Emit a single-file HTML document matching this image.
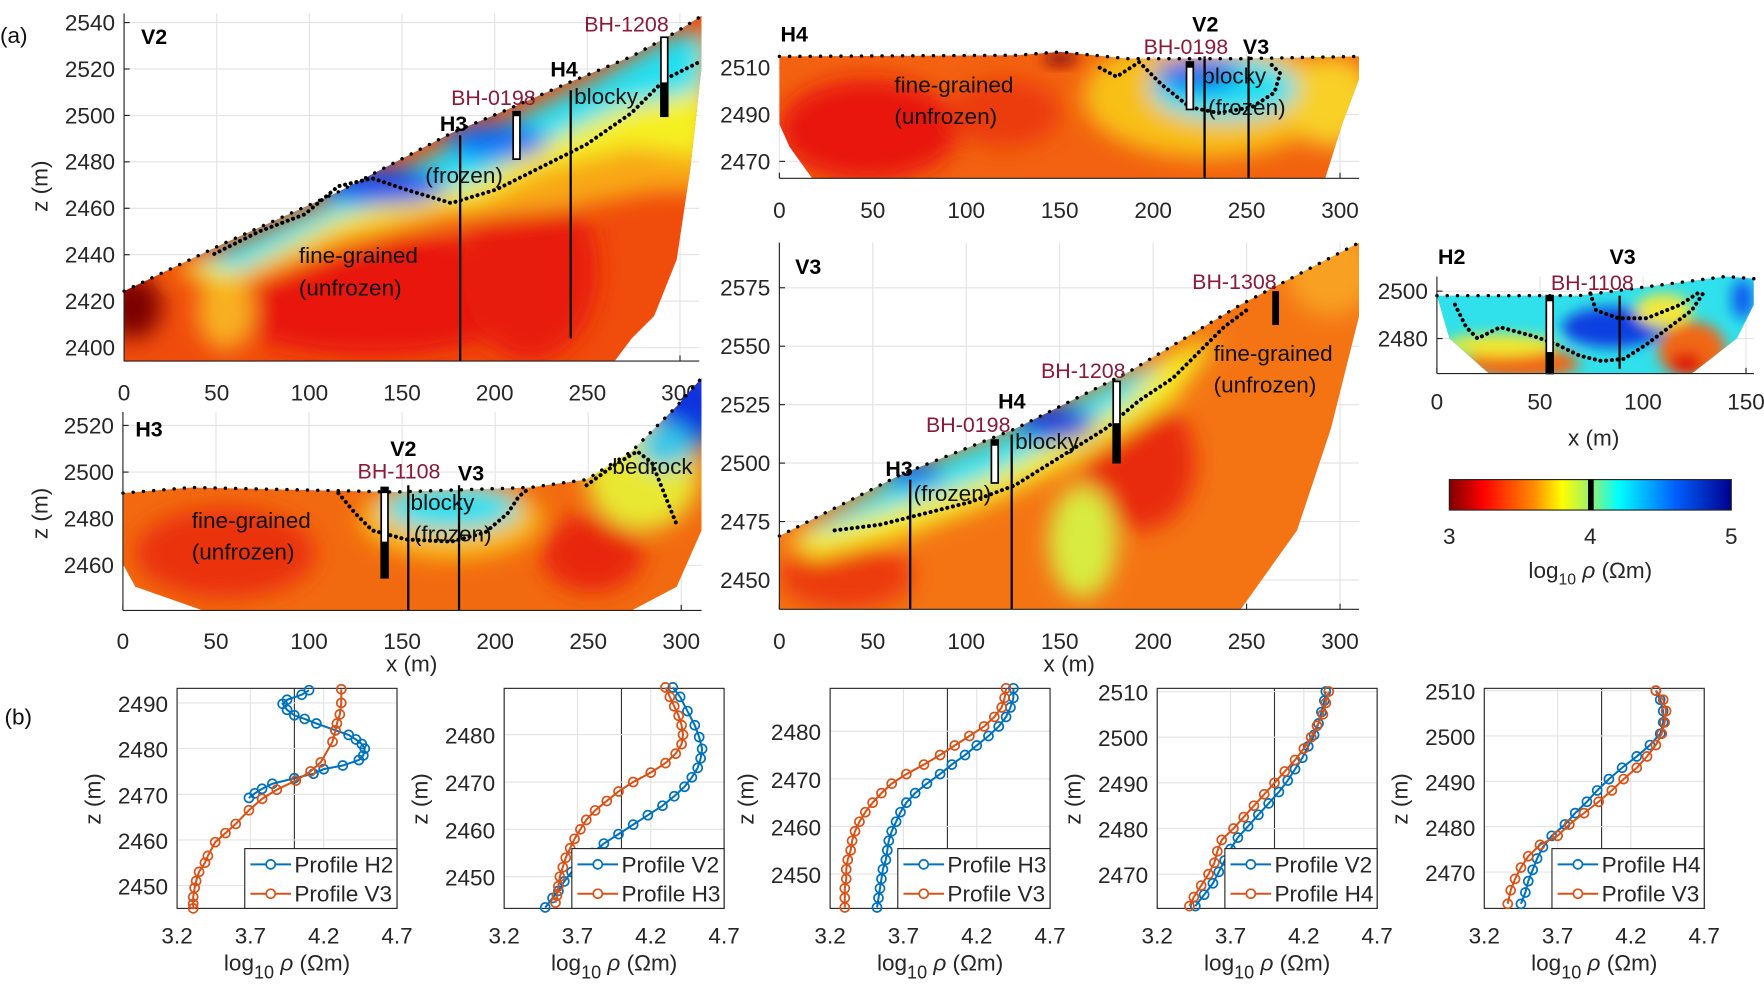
<!DOCTYPE html>
<html><head><meta charset="utf-8">
<style>
html,body{margin:0;padding:0;background:#fff;}
svg{display:block;font-family:"Liberation Sans",sans-serif;}
.t{font-size:20px;fill:#262626;}
.lbl{font-size:20px;fill:#111;}
.pn{font-size:19px;font-weight:bold;fill:#000;}
.bh{font-size:19px;fill:#8b1a3a;}
.grid{stroke:#e3e3e3;stroke-width:1;}
.dots{fill:none;stroke:#000;stroke-width:3.5;stroke-dasharray:0.1 5;stroke-linecap:round;}
.surf{fill:none;stroke:#000;stroke-width:3;stroke-dasharray:0.1 9;stroke-linecap:round;}
</style></head>
<body>
<svg id="fig" width="1764" height="984" viewBox="0 0 1564 872" preserveAspectRatio="none" xmlns="http://www.w3.org/2000/svg">
<defs>
<filter id="bl" x="-50%" y="-50%" width="200%" height="200%"><feGaussianBlur stdDeviation="10"/></filter>
<filter id="bl2" x="-50%" y="-50%" width="200%" height="200%"><feGaussianBlur stdDeviation="6"/></filter>
<linearGradient id="cmap" x1="0" x2="1" y1="0" y2="0">
<stop offset="0" stop-color="#7f0000"/><stop offset="0.12" stop-color="#ff0000"/><stop offset="0.3" stop-color="#ff8c00"/><stop offset="0.4" stop-color="#ffff00"/><stop offset="0.5" stop-color="#9af070"/><stop offset="0.6" stop-color="#00ffff"/><stop offset="0.8" stop-color="#0060ff"/><stop offset="1" stop-color="#00008f"/>
</linearGradient>
<clipPath id="cV2"><polygon points="110,258 200,215 300,170 400,118 450,97 500,75 560,50 600,28 622,14 622,60 612,150 600,230 580,280 560,300 545,320 110,320"/></clipPath>
<clipPath id="cH4"><polygon points="691,50 900,49 940,46 1000,52 1100,52 1205,50 1205,70 1190,110 1175,158 720,158 700,130 691,110"/></clipPath>
<clipPath id="cV3"><polygon points="691,475 800,420 900,380 1000,330 1100,270 1205,215 1205,280 1180,380 1150,470 1100,540 691,540"/></clipPath>
<clipPath id="cH3"><polygon points="109,437 170,432 260,434 350,436 470,432 520,425 560,400 600,360 622,335 622,470 600,520 560,541 180,541 120,520 109,500"/></clipPath>
<clipPath id="cH2"><polygon points="1274,262 1400,262 1530,245 1555,247 1555,270 1540,300 1500,331 1320,331 1285,300"/></clipPath>
</defs>

<text x="0" y="38" class="lbl">(a)</text>
<text x="4" y="642" class="lbl">(b)</text>

<!-- V2 -->
<g>
<g clip-path="url(#cV2)">
<rect x="100" y="0" width="530" height="330" fill="#f04c0c"/>
<g filter="url(#bl)">
<ellipse cx="330" cy="260" rx="150" ry="55" fill="#e81208"/>
<ellipse cx="470" cy="240" rx="60" ry="80" fill="#e81a08"/>
<ellipse cx="118" cy="272" rx="25" ry="28" fill="#7a0404"/>
<ellipse cx="200" cy="275" rx="25" ry="35" fill="#f8b020"/>
<polygon points="150,240 300,180 420,125 520,80 600,30 630,40 630,170 580,170 500,185 400,195 300,220 200,258" fill="#f8a818"/>
<polygon points="160,238 300,178 420,124 520,78 600,30 630,30 630,140 560,130 480,150 420,180 360,190 300,205 200,250" fill="#f5f020"/>
<polygon points="175,232 300,174 420,121 520,74 600,30 625,30 622,80 550,95 480,128 420,162 360,175 300,192 210,240" fill="#20e0f0"/>
<ellipse cx="340" cy="165" rx="55" ry="16" fill="#0a50f0"/>
<ellipse cx="440" cy="125" rx="45" ry="16" fill="#1070f8"/>
</g>
</g>
<polyline class="dots" points="190,225 230,205 270,190 300,165 330,158 360,168 400,180 440,168 480,148 520,128 560,100 590,70 620,55"/>
<polyline class="surf" points="110,258 200,215 300,170 400,118 450,97 500,75 560,50 600,28 622,14"/>
<rect x="455" y="99" width="6" height="42" fill="#fff" stroke="#000" stroke-width="1.5"/>
<rect x="455" y="99" width="6" height="4" fill="#000"/>
<rect x="586" y="33" width="6" height="70" fill="#fff" stroke="#000" stroke-width="1.5"/>
<rect x="586" y="73" width="6" height="30" fill="#000"/>
<line x1="408" y1="120" x2="408" y2="320" stroke="#000" stroke-width="2"/>
<line x1="506" y1="80" x2="506" y2="300" stroke="#000" stroke-width="2"/>
<line x1="110" y1="12" x2="110" y2="320" stroke="#222"/>
<line x1="110" y1="320" x2="620" y2="320" stroke="#222"/>
<text x="125" y="39" class="pn">V2</text>
<text x="390" y="116" class="pn">H3</text>
<text x="488" y="68" class="pn">H4</text>
<text x="400" y="93" class="bh">BH-0198</text>
<text x="518" y="28" class="bh">BH-1208</text>
<text x="509" y="92" class="lbl">blocky</text>
<text x="377" y="162" class="lbl">(frozen)</text>
<text x="265" y="233" class="lbl">fine-grained</text>
<text x="265" y="262" class="lbl">(unfrozen)</text>
</g>

<!-- H4 -->
<g>
<g clip-path="url(#cH4)">
<rect x="690" y="40" width="520" height="120" fill="#f26210"/>
<g filter="url(#bl)">
<ellipse cx="770" cy="115" rx="80" ry="45" fill="#e81808"/>
<ellipse cx="890" cy="100" rx="50" ry="30" fill="#ec3a0c"/>
<ellipse cx="1070" cy="85" rx="110" ry="55" fill="#f8c018"/>
<ellipse cx="1180" cy="90" rx="40" ry="40" fill="#f8d028"/>
<ellipse cx="1085" cy="78" rx="65" ry="28" fill="#20e0f0"/>
<ellipse cx="1062" cy="66" rx="38" ry="14" fill="#0a60f0"/>
</g>
<ellipse cx="940" cy="52" rx="15" ry="6" fill="#900808" filter="url(#bl2)"/>
</g>
<polyline class="dots" points="975,60 990,68 1010,55 1030,75 1055,95 1080,100 1110,95 1130,82 1135,65 1125,55"/>
<polyline class="surf" points="691,50 900,49 940,46 1000,52 1100,52 1205,50"/>
<rect x="1052" y="55" width="6" height="42" fill="#fff" stroke="#000" stroke-width="1.5"/>
<rect x="1052" y="55" width="6" height="5" fill="#000"/>
<line x1="1068" y1="50" x2="1068" y2="158" stroke="#000" stroke-width="2"/>
<line x1="1107" y1="50" x2="1107" y2="158" stroke="#000" stroke-width="2"/>
<line x1="691" y1="158" x2="1205" y2="158" stroke="#222"/>
<text x="692" y="37" class="pn">H4</text>
<text x="1057" y="28" class="pn">V2</text>
<text x="1102" y="48" class="pn">V3</text>
<text x="1014" y="48" class="bh">BH-0198</text>
<text x="1066" y="74" class="lbl">blocky</text>
<text x="1071" y="102" class="lbl">(frozen)</text>
<text x="793" y="82" class="lbl">fine-grained</text>
<text x="793" y="110" class="lbl">(unfrozen)</text>
</g>

<!-- V3 -->
<g>
<g clip-path="url(#cV3)">
<rect x="690" y="210" width="520" height="335" fill="#f47414"/>
<g filter="url(#bl)">
<ellipse cx="1010" cy="410" rx="50" ry="60" fill="#e82a08"/>
<ellipse cx="750" cy="510" rx="60" ry="30" fill="#ec3a0c"/>
<ellipse cx="960" cy="480" rx="30" ry="50" fill="#d8ec40"/>
<ellipse cx="1180" cy="240" rx="40" ry="40" fill="#f8a020"/>
<polygon points="700,478 800,428 900,388 1000,338 1050,308 1080,300 1040,355 960,405 880,445 800,475 720,495" fill="#f5f020"/>
<polygon points="710,472 800,420 900,380 990,335 1030,320 1000,355 940,390 870,425 800,448 730,470" fill="#20e0f0"/>
<ellipse cx="935" cy="375" rx="35" ry="16" fill="#0a40e0"/>
<ellipse cx="810" cy="420" rx="25" ry="12" fill="#1070f0"/>
</g>
</g>
<polyline class="dots" points="740,470 780,465 820,455 860,445 900,430 940,405 980,380 1010,355 1040,335 1060,315 1085,290 1105,275"/>
<polyline class="surf" points="691,475 800,420 900,380 1000,330 1100,270 1205,215"/>
<rect x="879" y="390" width="6" height="38" fill="#fff" stroke="#000" stroke-width="1.5"/>
<rect x="879" y="390" width="6" height="5" fill="#000"/>
<rect x="987" y="338" width="6" height="72" fill="#fff" stroke="#000" stroke-width="1.5"/>
<rect x="987" y="375" width="6" height="35" fill="#000"/>
<rect x="1128" y="258" width="6" height="30" fill="#000"/>
<line x1="807" y1="425" x2="807" y2="540" stroke="#000" stroke-width="2"/>
<line x1="897" y1="385" x2="897" y2="540" stroke="#000" stroke-width="2"/>
<line x1="691" y1="215" x2="691" y2="540" stroke="#222"/>
<line x1="691" y1="540" x2="1205" y2="540" stroke="#222"/>
<text x="705" y="243" class="pn">V3</text>
<text x="785" y="422" class="pn">H3</text>
<text x="885" y="362" class="pn">H4</text>
<text x="821" y="383" class="bh">BH-0198</text>
<text x="923" y="335" class="bh">BH-1208</text>
<text x="1057" y="256" class="bh">BH-1308</text>
<text x="900" y="398" class="lbl">blocky</text>
<text x="810" y="444" class="lbl">(frozen)</text>
<text x="1076" y="320" class="lbl">fine-grained</text>
<text x="1076" y="348" class="lbl">(unfrozen)</text>
</g>

<!-- H3 -->
<g>
<g clip-path="url(#cH3)">
<rect x="105" y="330" width="520" height="215" fill="#f26a10"/>
<g filter="url(#bl)">
<ellipse cx="200" cy="490" rx="80" ry="40" fill="#ea3008"/>
<ellipse cx="525" cy="490" rx="45" ry="35" fill="#e82808"/>
<ellipse cx="400" cy="460" rx="80" ry="35" fill="#f8c018"/>
<ellipse cx="570" cy="420" rx="50" ry="50" fill="#e8e830"/>
<ellipse cx="400" cy="450" rx="60" ry="20" fill="#20e0f0"/>
<ellipse cx="610" cy="360" rx="30" ry="40" fill="#0a30e0"/>
<ellipse cx="590" cy="395" rx="25" ry="20" fill="#30c8e8"/>
</g>
</g>
<polyline class="dots" points="300,437 315,455 330,470 360,478 400,480 430,472 450,455 460,440 470,432"/>
<polyline class="dots" points="520,430 545,412 565,400 578,410 590,440 600,465"/>
<polyline class="surf" points="109,437 170,432 260,434 350,436 470,432 520,425 560,400 600,360 622,335"/>
<rect x="338" y="432" width="6" height="80" fill="#fff" stroke="#000" stroke-width="1.5"/>
<rect x="338" y="432" width="6" height="5" fill="#000"/>
<rect x="338" y="480" width="6" height="32" fill="#000"/>
<line x1="362" y1="430" x2="362" y2="541" stroke="#000" stroke-width="2"/>
<line x1="407" y1="430" x2="407" y2="541" stroke="#000" stroke-width="2"/>
<line x1="109" y1="365" x2="109" y2="541" stroke="#222"/>
<line x1="109" y1="541" x2="622" y2="541" stroke="#222"/>
<text x="120" y="387" class="pn">H3</text>
<text x="346" y="404" class="pn">V2</text>
<text x="406" y="426" class="pn">V3</text>
<text x="317" y="424" class="bh">BH-1108</text>
<text x="364" y="452" class="lbl">blocky</text>
<text x="367" y="480" class="lbl">(frozen)</text>
<text x="543" y="420" class="lbl">bedrock</text>
<text x="170" y="468" class="lbl">fine-grained</text>
<text x="170" y="496" class="lbl">(unfrozen)</text>
</g>

<!-- H2 -->
<g>
<g clip-path="url(#cH2)">
<rect x="1270" y="240" width="290" height="95" fill="#30e0ea"/>
<g filter="url(#bl2)">
<ellipse cx="1430" cy="290" rx="45" ry="18" fill="#0a40e0"/>
<ellipse cx="1350" cy="322" rx="50" ry="14" fill="#f06818"/>
<ellipse cx="1330" cy="306" rx="50" ry="10" fill="#f0e830"/>
<ellipse cx="1500" cy="310" rx="30" ry="25" fill="#f06818"/>
<ellipse cx="1495" cy="322" rx="15" ry="10" fill="#e01808"/>
<ellipse cx="1475" cy="275" rx="25" ry="15" fill="#f0e840"/>
<ellipse cx="1545" cy="265" rx="10" ry="18" fill="#1060f0"/>
</g>
</g>
<polyline class="dots" points="1290,270 1300,290 1310,300 1330,290 1360,298 1380,305 1400,315 1420,320 1440,318 1460,305 1480,290 1500,275 1510,260"/>
<polyline class="dots" points="1410,260 1415,275 1435,282 1460,282 1490,270 1505,260"/>
<polyline class="surf" points="1274,262 1400,262 1530,245 1555,247"/>
<rect x="1371" y="262" width="6" height="69" fill="#fff" stroke="#000" stroke-width="1.5"/>
<rect x="1371" y="262" width="6" height="5" fill="#000"/>
<rect x="1371" y="312" width="6" height="19" fill="#000"/>
<line x1="1436" y1="262" x2="1436" y2="327" stroke="#000" stroke-width="2"/>
<line x1="1274" y1="245" x2="1274" y2="331" stroke="#222"/>
<line x1="1274" y1="331" x2="1555" y2="331" stroke="#222"/>
<text x="1275" y="234" class="pn">H2</text>
<text x="1427" y="234" class="pn">V3</text>
<text x="1375" y="257" class="bh">BH-1108</text>
</g>

<!-- colorbar -->
<g>
<rect x="1285" y="425" width="250" height="27" fill="url(#cmap)" stroke="#222"/>
<rect x="1408" y="425" width="5" height="27" fill="#000"/>
<text x="1285" y="482" class="t" text-anchor="middle">3</text>
<text x="1410" y="482" class="t" text-anchor="middle">4</text>
<text x="1535" y="482" class="t" text-anchor="middle">5</text>
<text x="1410" y="512" class="t" text-anchor="middle">log<tspan font-size="14" dy="6">10</tspan><tspan dy="-6"> </tspan><tspan font-style="italic">ρ</tspan> (Ωm)</text>
</g>
<g id="axes"></g>
</svg>
<script>
// ---- (b) profile data ----
const p1A=[[4.10,2492.8],[4.05,2491.8],[3.95,2490.7],[3.92,2489.8],[3.95,2488.5],[4.00,2487.3],[4.07,2486.5],[4.15,2485.5],[4.28,2484],[4.37,2483],[4.42,2482],[4.46,2481],[4.48,2480],[4.47,2478.5],[4.44,2477.5],[4.33,2476.3],[4.20,2475.5],[4.13,2474.5],[4.00,2473.5],[3.85,2472.3],[3.78,2471.2],[3.73,2470.2],[3.69,2469.2]];
const p1B=[[4.32,2493],[4.32,2490],[4.31,2487.5],[4.29,2485.5],[4.28,2484],[4.26,2481.5],[4.18,2477],[4.11,2475],[4.01,2473],[3.88,2471],[3.78,2469],[3.69,2466.5],[3.60,2463.5],[3.53,2461.5],[3.46,2459.5],[3.41,2456.5],[3.39,2455],[3.35,2453],[3.33,2451],[3.32,2449.5],[3.31,2447.5],[3.31,2446],[3.31,2445]];
const p2A=[[4.35,2490],[4.40,2488],[4.45,2485],[4.50,2482],[4.53,2479.5],[4.55,2477],[4.54,2475],[4.52,2473],[4.48,2471],[4.43,2469],[4.36,2467],[4.28,2465],[4.18,2463],[4.08,2461],[3.98,2459],[3.88,2457],[3.80,2455],[3.73,2453],[3.66,2451],[3.61,2449],[3.57,2447],[3.53,2445.5],[3.48,2443.5]];
const p2B=[[4.30,2490],[4.33,2488],[4.36,2486],[4.39,2484],[4.41,2482],[4.42,2480],[4.41,2478],[4.37,2476],[4.30,2474],[4.20,2472],[4.08,2470],[3.98,2468],[3.90,2466],[3.82,2464],[3.76,2462],[3.72,2460],[3.68,2458],[3.65,2456],[3.62,2454],[3.60,2452],[3.58,2450],[3.57,2448],[3.56,2446],[3.55,2444.5]];
const p3A=[[4.45,2489],[4.45,2487],[4.43,2485],[4.40,2483],[4.35,2481],[4.28,2479],[4.20,2477],[4.12,2475],[4.03,2473],[3.95,2471],[3.86,2469],[3.78,2467],[3.72,2465],[3.68,2463],[3.65,2461],[3.62,2459],[3.60,2457],[3.59,2455],[3.58,2453],[3.56,2451],[3.55,2449],[3.54,2447],[3.53,2445],[3.52,2443]];
const p3B=[[4.40,2489],[4.39,2487],[4.37,2485],[4.32,2483],[4.25,2481],[4.15,2479],[4.05,2477],[3.95,2475],[3.84,2473],[3.72,2471],[3.62,2469],[3.55,2467],[3.49,2465],[3.44,2463],[3.40,2461],[3.37,2459],[3.35,2457],[3.34,2455],[3.32,2453],[3.31,2451],[3.31,2449],[3.30,2447],[3.30,2445],[3.30,2443]];
const p4A=[[4.35,2510],[4.34,2508],[4.32,2505.5],[4.30,2503],[4.27,2500.5],[4.23,2498],[4.19,2495.5],[4.14,2493],[4.09,2490.5],[4.03,2488],[3.96,2485.5],[3.89,2483],[3.82,2480.5],[3.75,2478],[3.70,2475.5],[3.66,2473],[3.62,2470.5],[3.58,2468],[3.52,2465.5],[3.46,2463]];
const p4B=[[4.37,2510],[4.35,2507.5],[4.33,2505],[4.29,2502.5],[4.25,2500],[4.20,2497.5],[4.14,2495],[4.07,2492.5],[4.00,2490],[3.93,2487.5],[3.86,2485],[3.79,2482.5],[3.72,2480],[3.64,2477.5],[3.61,2475],[3.59,2472.5],[3.55,2470],[3.50,2467.5],[3.45,2465],[3.42,2463]];
const p5A=[[4.37,2510],[4.40,2508],[4.42,2505.5],[4.42,2503],[4.40,2500.5],[4.33,2498],[4.24,2495.5],[4.14,2493],[4.05,2490.5],[3.97,2488],[3.90,2485.5],[3.82,2483],[3.75,2480.5],[3.66,2478],[3.60,2475.5],[3.56,2473],[3.53,2470.5],[3.50,2468],[3.48,2465.5],[3.45,2463]];
const p5B=[[4.37,2510],[4.42,2508],[4.44,2505.5],[4.43,2503],[4.41,2500.5],[4.37,2498],[4.31,2495.5],[4.24,2493],[4.15,2490.5],[4.07,2488],[3.98,2485.5],[3.88,2483],[3.78,2480.5],[3.70,2478],[3.58,2476],[3.50,2473.5],[3.45,2471],[3.41,2468.5],[3.38,2466],[3.36,2463]];
const bxTicks=[3.2,3.7,4.2,4.7];
const bLeg=[["Profile H2","Profile V3"],["Profile V2","Profile H3"],["Profile H3","Profile V3"],["Profile V2","Profile H4"],["Profile H4","Profile V3"]];
const bYT=[[2450,2460,2470,2480,2490],[2450,2460,2470,2480],[2450,2460,2470,2480],[2470,2480,2490,2500,2510],[2470,2480,2490,2500,2510]];
const bYR=[[2445,2493.2],[2443.3,2489.8],[2442.8,2489],[2462.5,2510.7],[2462,2510.5]];
const bSeries=[[p1A,p1B],[p2A,p2B],[p3A,p3B],[p4A,p4B],[p5A,p5B]];
// ---- (a) section tick labels ----
const secXT=[0,50,100,150,200,250,300];
const h2XT=[0,50,100,150];
const v2YT=[2400,2420,2440,2460,2480,2500,2520,2540];
const h4YT=[2470,2490,2510];
const v3YT=[2450,2475,2500,2525,2550,2575];
const h3YT=[2460,2480,2500,2520];
const h2YT=[2480,2500];

const NS="http://www.w3.org/2000/svg";
const root=document.getElementById('axes');
function mk(tag,at,parent){const e=document.createElementNS(NS,tag);for(const k in at)e.setAttribute(k,at[k]);(parent||root).appendChild(e);return e;}
function txt(x,y,s,anchor,parent,cls){const e=mk('text',{x:x,y:y,'text-anchor':anchor||'middle',class:cls||'t'},parent);e.textContent=s;return e;}

function sect(name,x0,x1,px0,pxPer,y0,y1,zA,zB,pyA,pyB,xts,yts,xlY,xlab,ylab){
  const g=mk('g',{});
  
  
  const sx=v=>px0+v*pxPer;
  const sy=v=>pyA+(v-zA)*(pyB-pyA)/(zB-zA);
  xts.forEach(v=>{mk('line',{x1:sx(v),x2:sx(v),y1:y0,y2:y1,class:'grid'},g);mk('line',{x1:sx(v),x2:sx(v),y1:y1,y2:y1-5,stroke:'#222'},g);txt(sx(v),xlY,String(v),'middle',g);});
  yts.forEach(v=>{mk('line',{x1:x0,x2:x1,y1:sy(v),y2:sy(v),class:'grid'},g);mk('line',{x1:x0,x2:x0+5,y1:sy(v),y2:sy(v),stroke:'#222'},g);txt(x0-8,sy(v)+7,String(v),'end',g);});
  root.insertBefore(g,root.firstChild);
  if(xlab){const t=txt(xlab[0],xlab[1],'x (m)','middle',g);t.setAttribute('font-size','21');}
  if(ylab){const t=txt(0,0,'z (m)','middle',g);t.setAttribute('transform','translate('+ylab[0]+','+ylab[1]+') rotate(-90)');t.setAttribute('font-size','21');}
}
sect('v2',110,620,110,1.643,12,320,2540,2400,20,308,secXT,v2YT,355,null,[42,165]);
sect('h4',691,1205,691,1.657,45,158,2510,2470,60,143,secXT,h4YT,193,null,null);
sect('v3',691,1205,691,1.657,215,540,2575,2450,255,514,secXT,v3YT,575,[948,595],null);
sect('h3',109,622,109,1.65,365,541,2520,2460,377,501,secXT,h3YT,575,[365,595],[42,455]);
sect('h2',1274,1555,1274,1.827,245,331,2500,2480,258,300,h2XT,h2YT,363,[1413,395],null);
const svg=document.getElementById('fig');
svg.insertBefore(root,svg.querySelector('text'));

const bLeft=[157,447,736,1026,1316];
const bW=195,bTop=610,bBot=805;
const colA='#0072BD',colB='#D95319';
const bg=document.createElementNS(NS,'g');svg.appendChild(bg);
bLeft.forEach((L,i)=>{
  const g=mk('g',{},bg);
  
  
  const sx=v=>L+(v-3.2)/1.5*bW;
  const [zmin,zmax]=bYR[i];
  const sy=v=>bBot-(v-zmin)/(zmax-zmin)*(bBot-bTop);
  mk('rect',{x:L,y:bTop,width:bW,height:bBot-bTop,fill:'#fff'},g);
  bxTicks.forEach(v=>{mk('line',{x1:sx(v),x2:sx(v),y1:bTop,y2:bBot,class:'grid'},g);const t=txt(sx(v),836,v.toFixed(1),'middle',g);t.setAttribute('font-size','21');});
  mk('line',{x1:sx(4.0),x2:sx(4.0),y1:bTop,y2:bBot,stroke:'#333','stroke-width':1},g);
  bYT[i].forEach(v=>{mk('line',{x1:L,x2:L+bW,y1:sy(v),y2:sy(v),class:'grid'},g);const t=txt(L-8,sy(v)+8,String(v),'end',g);t.setAttribute('font-size','21');});
  mk('rect',{x:L,y:bTop,width:bW,height:bBot-bTop,fill:'none',stroke:'#262626'},g);
  bSeries[i].forEach((s,k)=>{
    const c=k?colB:colA;
    const sg=mk('g',{},g);
    
    
    mk('polyline',{points:s.map(p=>sx(p[0])+','+sy(p[1])).join(' '),fill:'none',stroke:c,'stroke-width':1.8},sg);
    s.forEach(p=>{const m=mk('circle',{cx:sx(p[0]),cy:sy(p[1]),r:4,fill:'none',stroke:c,'stroke-width':1.5},sg);
      
      });
  });
  const lg=mk('g',{},g);
  
  
  mk('rect',{x:L+60,y:752,width:bW-60,height:53,fill:'#fff',stroke:'#262626'},lg);
  [0,1].forEach(k=>{const y=766+k*26;const c=k?colB:colA;
    mk('line',{x1:L+65,x2:L+101,y1:y,y2:y,stroke:c,'stroke-width':1.8},lg);
    mk('circle',{cx:L+83,cy:y,r:4,fill:'#fff',stroke:c,'stroke-width':1.5},lg);
    const t=txt(L+104,y+7,bLeg[i][k],'start',lg);t.setAttribute('font-size','19');});
  const yl=txt(0,0,'z (m)','middle',g);yl.setAttribute('font-size','22');
  yl.setAttribute('transform','translate('+(L-68)+',708) rotate(-90)');
  const xl=mk('text',{x:sx(3.95),y:860,'text-anchor':'middle',class:'t','font-size':'23'},g);
  xl.innerHTML='log<tspan font-size="16" dy="7">10</tspan><tspan dy="-7"> </tspan><tspan font-style="italic">ρ</tspan> (Ωm)';
});
</script>
</body></html>
